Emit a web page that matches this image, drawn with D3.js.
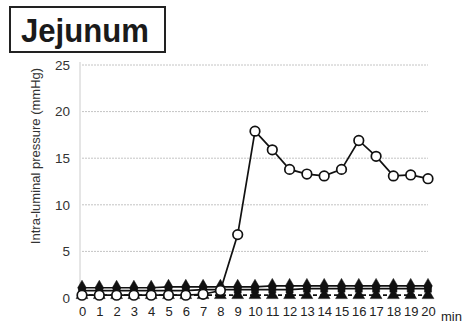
<!DOCTYPE html>
<html>
<head>
<meta charset="utf-8">
<script src="https://cdn.jsdelivr.net/npm/d3@7/dist/d3.min.js"></script>
<style>
  html, body { margin: 0; padding: 0; background: #fff; }
  svg { display: block; font-family: Arial, "Liberation Sans", sans-serif; }
</style>
</head>
<body>
<svg id="chart" width="466" height="325"></svg>
<script>
// Time points (min) and pressure readings (mmHg) for each series
const minutes = d3.range(0, 21);
const openCircle = [0.3, 0.3, 0.3, 0.3, 0.3, 0.3, 0.3, 0.4, 0.8, 6.8, 17.9, 15.9, 13.8, 13.3, 13.1, 13.8, 16.9, 15.2, 13.1, 13.2, 12.8];
const filledDiamond = [1.1, 1.1, 1.1, 1.1, 1.1, 1.2, 1.2, 1.2, 1.2, 1.2, 1.2, 1.3, 1.3, 1.3, 1.3, 1.3, 1.3, 1.3, 1.3, 1.3, 1.3];
const filledSquare = [0.8, 0.8, 0.8, 0.8, 0.8, 0.8, 0.8, 0.9, 0.9, 0.9, 0.9, 0.9, 0.9, 1.0, 1.0, 1.0, 1.0, 1.0, 1.0, 1.0, 1.0];
const filledTriangle = [0.3, 0.3, 0.3, 0.3, 0.3, 0.3, 0.3, 0.3, 0.3, 0.3, 0.3, 0.3, 0.3, 0.3, 0.3, 0.3, 0.3, 0.3, 0.3, 0.3, 0.3];
const yTicks = [0, 5, 10, 15, 20, 25];
const xTickLabels = minutes.map(String);

const svg = d3.select("#chart");
const x = d3.scaleLinear().domain([0, 20]).range([82, 428]);
const y = d3.scaleLinear().domain([0, 25]).range([298, 65]);

// Title box
svg.append("rect").attr("x", 10).attr("y", 7).attr("width", 155).attr("height", 45)
  .attr("fill", "#fff").attr("stroke", "#222").attr("stroke-width", 2);
svg.append("text").attr("x", 21).attr("y", 42)
  .attr("font-size", 34).attr("font-weight", "bold").attr("fill", "#1a1a1a")
  .attr("textLength", 128).attr("lengthAdjust", "spacingAndGlyphs")
  .text("Jejunum");

// Horizontal gridlines
svg.append("g").selectAll("line").data(yTicks.filter(d => d > 0)).join("line")
  .attr("x1", x(0)).attr("x2", x(20))
  .attr("y1", d => y(d)).attr("y2", d => y(d))
  .attr("stroke", "#c4c4c4").attr("stroke-width", 1).attr("stroke-dasharray", "2,1");

// Y axis
const yAxis = svg.append("g").attr("transform", `translate(${x(0) - 2},0)`)
  .call(d3.axisLeft(y).tickValues(yTicks).tickSize(0).tickPadding(10));
yAxis.select(".domain").attr("stroke", "#ccc").attr("d", `M0,${y(25) - 3}V${y(0)}`);
yAxis.selectAll("text").attr("font-size", 13.5).attr("fill", "#333")
  .attr("font-family", "Arial, 'Liberation Sans', sans-serif");

// X axis labels
const xAxis = svg.append("g").attr("transform", `translate(0,${y(0) + 7})`)
  .call(d3.axisBottom(x).tickValues(minutes).tickFormat((d, i) => xTickLabels[i]).tickSize(0).tickPadding(2));
xAxis.select(".domain").remove();
xAxis.selectAll("text").attr("font-size", 13).attr("fill", "#222")
  .attr("font-family", "Arial, 'Liberation Sans', sans-serif");
svg.append("text").attr("x", 441).attr("y", 321).attr("font-size", 13).attr("fill", "#222").text("min");

// Y axis title
svg.append("text")
  .attr("transform", `translate(40,156) rotate(-90)`)
  .attr("text-anchor", "middle").attr("font-size", 13).attr("fill", "#333")
  .text("Intra-luminal pressure (mmHg)");

const line = d3.line().x((d, i) => x(minutes[i])).y(d => y(d));

function drawSeries(values, symbolType, size, dashed, open) {
  const g = svg.append("g");
  g.append("path").datum(values).attr("d", line)
    .attr("fill", "none").attr("stroke", "#111").attr("stroke-width", 1.7)
    .attr("stroke-dasharray", dashed ? "4,3" : null);
  g.selectAll("path.pt").data(values).join("path").attr("class", "pt")
    .attr("transform", (d, i) => `translate(${x(minutes[i])},${y(d)})`)
    .attr("d", d3.symbol().type(symbolType).size(size))
    .attr("fill", open ? "#fff" : "#111")
    .attr("stroke", "#111").attr("stroke-width", open ? 1.7 : 0.5);
}

drawSeries(filledTriangle, d3.symbolTriangle, 60, true, false);
drawSeries(filledSquare, d3.symbolSquare, 50, false, false);
drawSeries(filledDiamond, d3.symbolDiamond, 65, false, false);
drawSeries(openCircle, d3.symbolCircle, 72, false, true);
</script>
</body>
</html>
